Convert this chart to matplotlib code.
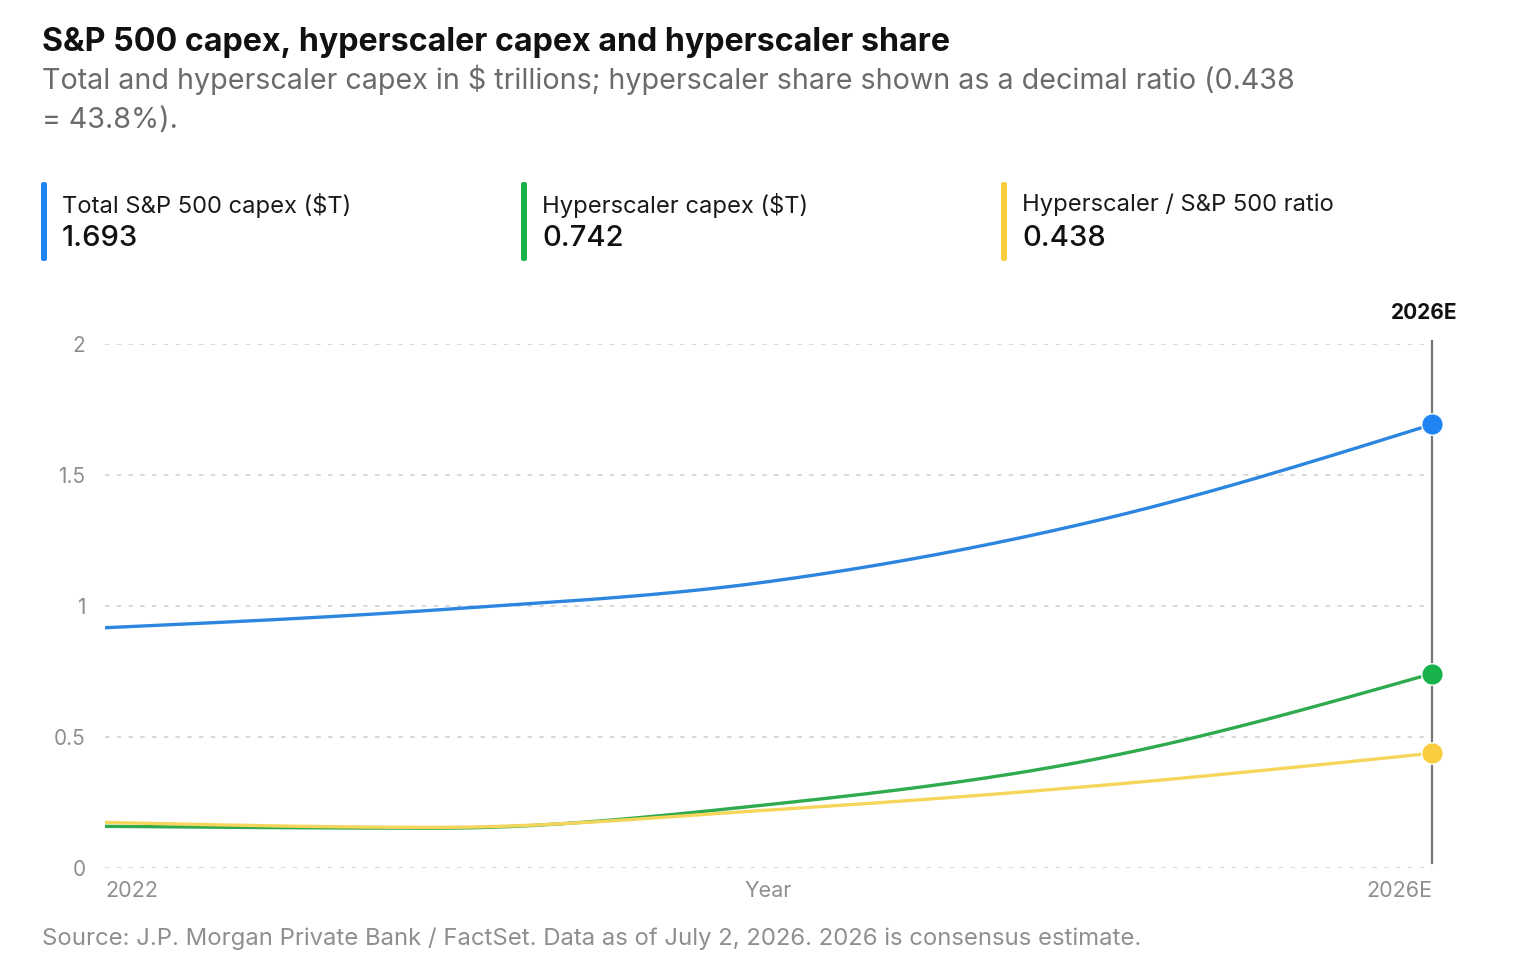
import numpy as np
import matplotlib
matplotlib.use("Agg")
from matplotlib import pyplot as plt
from matplotlib.patches import FancyBboxPatch

plt.rcParams['font.family'] = ['Inter', 'DejaVu Sans']

# data
years = ['2022', '2023', '2024', '2025', '2026E']
total_capex = [0.917, 0.985, 1.093, 1.329, 1.693]
hyper_capex = [0.159, 0.152, 0.242, 0.419, 0.742]
hyper_ratio = [0.174, 0.155, 0.221, 0.315, 0.438]

series_names = ['Total S&P 500 capex ($T)', 'Hyperscaler capex ($T)', 'Hyperscaler / S&P 500 ratio']
line_colors = ['#2c86e0', '#2faa4e', '#f5d55a']
dot_colors = ['#1e85f2', '#17b24a', '#f9cd3d']


def monotone_x(x, y, n=60):
    # d3 curveMonotoneX style smoothing between the data points
    x = np.asarray(x, float)
    y = np.asarray(y, float)
    h = np.diff(x)
    s = np.diff(y) / h
    t = np.zeros(len(x))
    for i in range(1, len(x) - 1):
        p = (s[i - 1] * h[i] + s[i] * h[i - 1]) / (h[i - 1] + h[i])
        t[i] = (np.sign(s[i - 1]) + np.sign(s[i])) * min(abs(s[i - 1]), abs(s[i]), 0.5 * abs(p))
    t[0] = (3 * s[0] - t[1]) / 2
    t[-1] = (3 * s[-1] - t[-2]) / 2
    xs, ys = [], []
    for i in range(len(x) - 1):
        u = np.linspace(0, 1, n)
        h00 = 2 * u**3 - 3 * u**2 + 1
        h10 = u**3 - 2 * u**2 + u
        h01 = -2 * u**3 + 3 * u**2
        h11 = u**3 - u**2
        xs.append(x[i] + u * h[i])
        ys.append(h00 * y[i] + h10 * h[i] * t[i] + h01 * y[i + 1] + h11 * h[i] * t[i + 1])
    return np.concatenate(xs), np.concatenate(ys)


W, H = 1522, 976
fig = plt.figure(figsize=(W / 100, H / 100), dpi=100)

# plot area in pixels: x 105..1432, y(0)=868, y(2)=344
ax = fig.add_axes([105 / W, 1 - 868 / H, (1432 - 105) / W, (868 - 344) / H])
xpos = np.arange(len(years))
ax.set_xlim(0, len(years) - 1)
ax.set_ylim(0, 2)

for yv in [0, 0.5, 1, 1.5, 2]:
    ax.axhline(yv, color='#d6d6d6', lw=1.3, ls=(0, (2.5, 4)), zorder=0)

ax.axvline(xpos[-1], ymin=0.01, ymax=1.005, color='#777777', lw=1.6, zorder=1, clip_on=False)

for vals, lc, dc in zip([total_capex, hyper_capex, hyper_ratio], line_colors, dot_colors):
    sx, sy = monotone_x(xpos, vals)
    ax.plot(sx, sy, color=lc, lw=2.4, solid_capstyle='round', zorder=3)
    ax.plot(xpos[-1], vals[-1], 'o', ms=15.5, color=dc, mec='white', mew=1.0,
            zorder=5, clip_on=False)

for sp in ax.spines.values():
    sp.set_visible(False)
ax.set_yticks([0, 0.5, 1, 1.5, 2])
ax.set_yticklabels(['0', '0.5', '1', '1.5', '2'])
ax.tick_params(axis='y', length=0, pad=14, labelsize=15, labelcolor='#8f8f8f')
ax.set_xticks([])

tr = ax.get_xaxis_transform()
ax.text(xpos[0], -0.025, years[0], transform=tr, ha='left', va='top', fontsize=15.5, color='#8f8f8f')
ax.text(xpos[-1], -0.025, years[-1], transform=tr, ha='right', va='top', fontsize=15.5, color='#8f8f8f')
ax.text(np.mean(xpos), -0.025, 'Year', transform=tr, ha='center', va='top', fontsize=15.5, color='#8f8f8f')
ax.text(xpos[-1] - 0.025, 1.06, years[-1], transform=tr, ha='center', va='center',
        fontsize=15, fontweight='bold', color='#111111')

# header
fig.text(42 / W, 1 - 42 / H, 'S&P 500 capex, hyperscaler capex and hyperscaler share',
         fontsize=23.2, fontweight='bold', color='#111111', va='center', ha='left')
fig.text(42 / W, 1 - 80 / H,
         'Total and hyperscaler capex in $ trillions; hyperscaler share shown as a decimal ratio (0.438',
         fontsize=20.6, color='#6b6b6b', va='center', ha='left')
fig.text(42 / W, 1 - 121 / H, '= 43.8%).', fontsize=20.6, color='#6b6b6b', va='center', ha='left')

# legend cards
leg_x = [42, 522, 1002]
for lx, name, vals, dc in zip(leg_x, series_names, [total_capex, hyper_capex, hyper_ratio], dot_colors):
    bar = FancyBboxPatch(((lx - 1) / W, 1 - 261 / H), 6 / W, 79 / H,
                         boxstyle='round,pad=0,rounding_size=0.0019',
                         transform=fig.transFigure, color=dc, lw=0)
    fig.patches.append(bar)
    fig.text((lx + 20) / W, 1 - 205 / H, name, fontsize=17.1, color='#1a1a1a', va='center', ha='left')
    fig.text((lx + 20) / W, 1 - 238 / H, f'{vals[-1]:.3f}', fontsize=21, fontweight='medium',
             color='#111111', va='center', ha='left')

fig.text(42 / W, 1 - 939 / H,
         'Source: J.P. Morgan Private Bank / FactSet. Data as of July 2, 2026. 2026 is consensus estimate.',
         fontsize=17.2, color='#8f8f8f', va='center', ha='left')

fig.savefig('out.png', dpi=100, facecolor='white')
